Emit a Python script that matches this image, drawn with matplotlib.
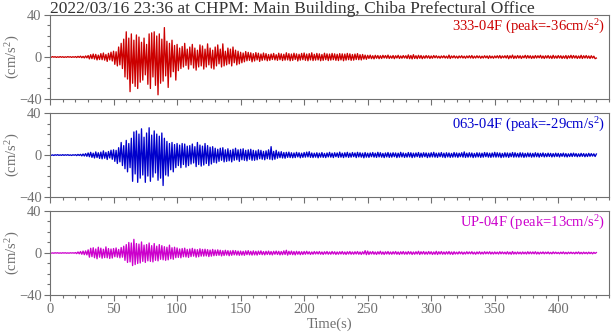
import numpy as np
import matplotlib
matplotlib.use("Agg")
import matplotlib.pyplot as plt
from matplotlib.ticker import MultipleLocator

plt.rcParams["font.family"] = "Liberation Serif"
plt.rcParams["mathtext.fontset"] = "custom"
plt.rcParams["mathtext.rm"] = "Liberation Serif"
plt.rcParams["mathtext.it"] = "Liberation Serif:italic"

title = "2022/03/16 23:36 at CHPM: Main Building, Chiba Prefectural Office"
components = ["333-04F", "063-04F", "UP-04F"]
colors = ["#cc0000", "#0000cc", "#cc00cc"]
dt = 1.0  # s between samples

# acceleration (cm/s2), one sample per second
acc_333 = [
    0.3, -0.3, 0.4, -0.2, 0.3, -0.4, 0.2, -0.3, 0.4, -0.3,
    0.3, -0.4, 0.2, -0.3, 0.4, -0.2, 0.3, -0.4, 0.3, -0.3,
    0.4, -0.5, 0.6, -0.4, 0.8, -0.7, 0.6, -0.9, 1.0, -0.8,
    1.4, -1.8, 2.2, -1.6, 2.8, -2.0, 2.5, -2.8, 1.8, -2.4,
    3.2, -2.6, 3.8, -3.0, 2.4, -4.2, 3.5, -2.8, 4.6, -3.8,
    5.5, -7.0, 5.0, -8.5, 9.5, -7.5, 13.0, -11.0, 17.0, -19.0,
    24.0, -21.0, 18.0, -33.0, 22.0, -25.0, 16.0, -28.0, 21.0, -30.0,
    19.0, -24.0, 14.0, -22.0, 18.0, -17.0, 12.0, -26.0, 22.0, -30.0,
    23.0, -19.0, 24.0, -27.0, 20.0, -36.0, 22.0, -25.0, 17.0, -23.0,
    28.0, -18.0, 15.0, -29.0, 13.0, -19.0, 16.0, -14.0, 11.0, -22.0,
    12.0, -13.0, 8.5, -11.0, 10.0, -9.5, 13.0, -8.0, 7.5, -11.5,
    9.5, -7.5, 12.0, -10.5, 8.5, -12.5, 6.5, -9.5, 11.5, -8.5,
    10.5, -11.5, 7.5, -9.5, 12.5, -7.5, 8.5, -10.5, 6.5, -11.5,
    9.5, -8.5, 11.5, -6.5, 7.5, -9.5, 12.5, -8.5, 5.5, -7.5,
    8.5, -6.5, 7.5, -8.5, 9.5, -5.5, 6.5, -7.5, 5.5, -6.5,
    4.5, -5.5, 3.8, -4.6, 5.2, -3.6, 4.4, -3.2, 4.0, -4.6,
    3.2, -3.8, 4.2, -2.8, 3.6, -4.2, 2.8, -3.2, 3.8, -2.8,
    3.2, -3.6, 2.4, -3.2, 2.8, -2.4, 3.4, -2.8, 2.2, -3.2,
    3.6, -2.6, 3.0, -3.4, 2.6, -3.0, 4.0, -2.8, 3.2, -3.6,
    2.8, -3.2, 3.6, -2.4, 3.0, -3.8, 2.6, -3.0, 3.4, -2.6,
    3.8, -3.2, 2.8, -3.6, 3.2, -2.8, 4.0, -3.4, 2.6, -3.0,
    3.4, -2.8, 3.0, -3.6, 2.4, -3.2, 3.6, -2.6, 3.0, -3.4,
    2.8, -3.0, 3.4, -2.6, 3.0, -3.2, 2.6, -3.4, 3.2, -2.8,
    3.0, -3.6, 2.8, -3.0, 3.4, -2.6, 3.0, -3.2, 2.4, -3.0,
    2.8, -2.4, 3.2, -2.6, 2.2, -2.8, 2.4, -2.0, 1.8, -2.2,
    1.6, -1.4, 1.8, -1.6, 1.2, -1.8, 1.6, -1.2, 1.4, -1.6,
    1.2, -1.4, 1.6, -1.0, 1.4, -1.2, 1.8, -1.4, 1.0, -1.2,
    1.4, -1.6, 1.2, -1.0, 1.6, -1.4, 1.0, -1.2, 1.4, -1.0,
    1.2, -1.4, 2.0, -1.6, 1.4, -1.8, 2.2, -1.4, 1.2, -1.6,
    1.6, -1.2, 1.4, -1.6, 1.0, -1.2, 1.4, -1.0, 1.2, -1.4,
    1.0, -1.2, 1.4, -0.8, 1.2, -1.0, 0.8, -1.2, 1.0, -0.8,
    1.2, -1.0, 0.8, -1.2, 1.8, -1.4, 1.0, -0.8, 1.2, -1.0,
    0.8, -1.2, 1.0, -0.8, 1.2, -1.0, 0.8, -1.2, 1.0, -0.8,
    1.2, -1.0, 1.4, -1.2, 0.8, -1.0, 1.2, -0.8, 1.0, -1.2,
    0.8, -1.0, 1.2, -0.8, 1.0, -1.4, 1.2, -1.0, 0.8, -1.2,
    1.0, -0.8, 1.2, -1.0, 1.4, -1.2, 1.0, -0.8, 1.2, -1.0,
    1.4, -1.6, 1.2, -1.0, 1.8, -1.4, 1.0, -1.2, 1.4, -1.0,
    1.2, -1.4, 1.0, -0.8, 1.6, -1.2, 1.4, -1.0, 1.2, -1.4,
    1.0, -1.2, 1.4, -1.0, 1.2, -0.8, 1.6, -1.2, 1.0, -1.4,
    1.2, -1.0, 1.4, -1.2, 1.0, -1.4, 1.6, -1.2, 1.0, -1.2,
    1.4, -1.0, 1.2, -1.4, 1.0, -1.2, 1.4, -1.6, 1.2, -1.0,
    1.6, -1.2, 1.4, -1.0, 1.2, -1.4, 1.0, -1.2, 1.6, -1.4,
    1.2, -1.0, 1.4, -1.2, 1.0, -1.4, 1.2, -1.0, 0.8, -1.6,
    -1.0,
]

acc_063 = [
    0.3, -0.3, 0.2, -0.4, 0.3, -0.2, 0.4, -0.3, 0.2, -0.3,
    0.4, -0.3, 0.3, -0.2, 0.4, -0.3, 0.2, -0.4, 0.3, -0.2,
    0.4, -0.5, 0.6, -0.4, 0.7, -0.8, 1.0, -0.9, 1.4, -1.2,
    2.0, -1.6, 2.6, -2.2, 1.8, -2.8, 3.0, -2.4, 2.2, -3.2,
    2.8, -3.6, 4.0, -3.0, 2.6, -4.2, 3.4, -2.8, 4.6, -4.0,
    5.0, -6.0, 4.5, -8.0, 7.0, -6.5, 12.0, -10.0, 9.0, -13.0,
    14.0, -16.0, 11.0, -12.0, 16.0, -25.0, 22.0, -18.0, 23.0, -26.0,
    20.0, -22.0, 25.0, -19.0, 17.0, -26.0, 21.0, -20.0, 26.0, -25.0,
    19.0, -21.0, 23.0, -17.0, 20.0, -24.0, 18.0, -22.0, 21.0, -29.0,
    16.0, -19.0, 13.0, -20.0, 11.0, -14.0, 12.0, -16.0, 10.0, -12.0,
    11.0, -10.0, 9.5, -12.0, 11.0, -9.0, 10.5, -11.5, 8.5, -10.0,
    9.0, -8.5, 10.5, -7.5, 8.0, -11.0, 12.0, -9.0, 9.5, -10.5,
    8.5, -9.5, 11.0, -8.0, 9.0, -10.0, 7.5, -8.5, 8.0, -7.0,
    6.5, -7.5, 5.5, -6.0, 6.5, -5.0, 7.0, -6.5, 5.0, -6.0,
    6.0, -5.5, 4.5, -6.5, 5.5, -5.0, 6.5, -4.5, 5.0, -6.0,
    5.5, -4.5, 6.0, -5.0, 4.5, -5.5, 5.0, -4.0, 5.5, -5.0,
    4.5, -5.0, 4.0, -4.5, 5.0, -3.5, 4.5, -4.0, 3.5, -4.5,
    4.0, -3.5, 5.0, -4.0, 8.0, -4.5, 3.5, -4.0, 4.5, -3.0,
    3.0, -2.5, 3.2, -2.8, 2.4, -3.0, 2.6, -2.2, 2.8, -2.4,
    2.2, -2.6, 2.0, -2.4, 2.6, -1.8, 2.2, -2.6, 1.8, -2.2,
    2.4, -2.0, 2.8, -1.8, 3.2, -2.2, 2.0, -2.4, 1.8, -2.0,
    2.2, -2.6, 1.8, -2.0, 2.4, -2.2, 1.6, -2.4, 2.0, -1.8,
    2.6, -2.0, 1.8, -2.4, 2.2, -1.6, 2.0, -2.2, 2.8, -2.0,
    1.8, -2.4, 2.2, -1.8, 2.6, -2.2, 1.8, -2.0, 2.4, -1.6,
    2.0, -2.4, 2.6, -1.8, 2.2, -2.0, 1.8, -2.6, 2.4, -2.0,
    1.8, -2.2, 2.0, -1.6, 2.4, -2.0, 1.8, -2.2, 2.6, -1.8,
    2.2, -2.0, 1.6, -2.4, 2.0, -1.8, 2.4, -2.2, 1.8, -2.0,
    2.2, -1.6, 2.0, -2.4, 1.8, -2.0, 2.6, -1.8, 2.0, -2.2,
    1.6, -2.0, 2.4, -1.8, 2.2, -2.4, 1.8, -2.0, 2.0, -1.6,
    2.4, -2.2, 1.8, -2.0, 2.2, -1.6, 2.0, -2.4, 1.8, -2.0,
    2.2, -1.8, 2.6, -2.0, 1.8, -2.2, 2.0, -1.6, 2.4, -2.0,
    1.8, -2.4, 2.2, -1.8, 2.0, -2.2, 1.6, -2.0, 2.4, -1.8,
    2.0, -2.2, 1.8, -1.6, 2.2, -2.0, 3.0, -2.2, 1.8, -2.0,
    2.2, -1.8, 2.0, -2.4, 1.6, -2.0, 2.2, -1.8, 2.0, -2.2,
    1.8, -2.0, 2.4, -1.6, 2.2, -2.0, 1.8, -2.2, 2.0, -1.8,
    2.6, -2.0, 2.2, -1.8, 2.0, -2.4, 1.6, -2.0, 2.2, -1.8,
    2.0, -2.2, 1.8, -1.6, 2.4, -2.0, 2.2, -1.8, 1.6, -2.0,
    2.2, -1.8, 2.0, -2.2, 1.6, -1.8, 2.0, -1.6, 1.8, -2.0,
    1.6, -1.8, 2.2, -1.6, 1.8, -2.0, 1.6, -1.4, 2.0, -1.8,
    1.4, -1.6, 1.8, -1.4, 1.6, -1.8, 1.4, -1.6, 1.8, -1.4,
    1.6, -1.8, 1.4, -1.2, 1.8, -1.6, 1.4, -1.8, 1.2, -1.4,
    1.6, -1.4, 1.8, -1.2, 1.4, -1.6, 1.2, -1.4, 1.6, -1.2,
    1.4, -1.6, 1.2, -1.4, 1.6, -1.2, 1.4, -1.0, 1.2, -1.4,
    1.0,
]

acc_up = [
    0.2, -0.2, 0.1, -0.2, 0.2, -0.1, 0.2, -0.2, 0.1, -0.2,
    0.2, -0.1, 0.2, -0.2, 0.1, -0.2, 0.2, -0.1, 0.2, -0.2,
    0.4, -0.6, 1.0, -0.8, 1.4, -1.2, 1.8, -1.6, 2.0, -1.8,
    3.0, -4.0, 4.5, -3.5, 5.0, -4.5, 3.8, -5.5, 5.5, -4.0,
    4.6, -5.0, 3.6, -4.4, 5.8, -4.6, 4.2, -5.2, 3.8, -4.8,
    4.2, -3.6, 4.8, -4.0, 3.4, -4.6, 5.2, -4.0, 6.5, -7.0,
    8.0, -9.0, 10.0, -8.5, 9.5, -12.0, 13.0, -11.0, 9.0, -10.0,
    8.5, -9.5, 10.5, -8.0, 7.5, -9.0, 8.0, -7.5, 9.5, -8.0,
    7.0, -8.5, 9.0, -7.0, 6.5, -7.5, 8.0, -6.0, 7.0, -6.5,
    6.0, -7.0, 5.5, -6.5, 7.5, -5.5, 5.0, -6.0, 5.5, -4.5,
    4.8, -4.2, 3.8, -4.6, 4.2, -3.6, 4.6, -3.8, 3.4, -4.2,
    3.8, -3.4, 4.4, -3.0, 3.6, -4.0, 3.2, -3.6, 4.0, -3.0,
    3.4, -3.0, 3.6, -2.8, 3.2, -3.4, 2.8, -3.0, 3.4, -2.6,
    2.8, -2.4, 3.0, -2.2, 2.6, -2.8, 2.2, -2.4, 2.6, -2.0,
    2.2, -2.6, 2.0, -2.2, 2.4, -1.8, 2.2, -2.0, 1.8, -2.2,
    1.8, -2.0, 1.6, -2.2, 2.0, -1.6, 2.2, -1.8, 1.6, -2.0,
    2.0, -1.8, 1.6, -2.0, 1.8, -1.4, 2.0, -1.6, 1.4, -1.8,
    1.6, -1.4, 1.8, -1.6, 1.4, -1.8, 1.6, -1.2, 1.8, -1.4,
    1.6, -1.8, 1.4, -1.6, 2.0, -1.4, 2.6, -2.0, 1.6, -1.4,
    1.8, -1.6, 1.4, -1.8, 1.6, -1.2, 1.4, -1.6, 1.2, -1.4,
    1.4, -1.2, 1.6, -1.0, 1.2, -1.4, 1.0, -1.2, 1.4, -1.0,
    1.2, -1.0, 1.4, -1.2, 1.0, -1.4, 1.2, -1.0, 1.4, -1.2,
    1.0, -1.2, 1.4, -1.0, 1.2, -1.4, 1.0, -1.2, 1.2, -1.0,
    1.4, -1.2, 1.0, -1.4, 1.2, -1.0, 1.4, -1.2, 1.0, -1.2,
    1.2, -1.0, 1.4, -1.2, 1.0, -1.4, 1.2, -1.0, 2.2, -1.6,
    1.8, -1.4, 1.2, -1.0, 1.4, -1.2, 1.0, -1.4, 1.2, -1.0,
    1.6, -1.2, 1.0, -1.4, 1.2, -1.0, 1.4, -1.2, 1.0, -1.2,
    1.2, -1.0, 1.4, -1.2, 1.0, -1.4, 1.2, -1.0, 1.4, -1.2,
    1.0, -1.2, 1.4, -1.0, 1.2, -1.4, 1.0, -1.2, 1.2, -1.0,
    1.6, -1.4, 1.2, -1.0, 1.4, -1.2, 1.0, -1.2, 1.4, -1.0,
    1.2, -1.4, 1.0, -1.2, 1.6, -1.4, 1.2, -1.0, 1.4, -1.2,
    1.0, -1.2, 1.2, -1.0, 1.4, -1.2, 1.0, -1.4, 1.2, -1.0,
    0.8, -1.0, 1.2, -0.8, 1.0, -1.2, 0.8, -1.0, 1.2, -0.8,
    1.0, -0.8, 1.2, -1.0, 0.8, -1.2, 1.0, -0.8, 1.2, -1.0,
    0.8, -1.0, 1.2, -0.8, 1.0, -0.8, 1.2, -1.0, 0.8, -1.0,
    1.0, -0.8, 0.8, -1.0, 1.2, -0.8, 1.0, -0.8, 0.8, -1.0,
    1.2, -1.0, 0.8, -1.2, 1.4, -1.0, 0.8, -1.0, 1.0, -0.8,
    0.8, -1.0, 1.0, -0.8, 0.8, -1.0, 1.2, -0.8, 1.0, -0.8,
    1.0, -0.8, 1.2, -1.0, 0.8, -1.0, 0.8, -0.6, 1.0, -0.8,
    0.8, -0.6, 1.0, -0.8, 0.6, -0.8, 1.0, -0.6, 0.8, -0.6,
    0.6, -0.8, 0.8, -0.6, 1.0, -0.8, 0.6, -0.8, 0.8, -0.6,
    0.8, -0.6, 0.6, -0.8, 0.8, -0.6, 1.0, -0.8, 0.6, -0.8,
    0.8, -0.6, 0.6, -0.8, 0.8, -0.6, 0.6, -0.8, 0.6, -0.4,
    0.4,
]

traces = [acc_333, acc_063, acc_up]

gray = "#707070"
fig = plt.figure(figsize=(6.13, 3.34), dpi=100)

left = 0.0816
width = 0.912
height = 0.2515
bottoms = [0.7036, 0.410, 0.1168]

for i, (acc, comp, c) in enumerate(zip(traces, components, colors)):
    ax = fig.add_axes([left, bottoms[i], width, height])
    acc = np.array(acc)
    t = np.arange(len(acc)) * dt
    ax.plot(t, acc, color=c, lw=0.95)

    peak = acc[np.argmax(np.abs(acc))]
    ax.text(0.993, 0.97, f"{comp} (peak={peak:.0f}cm/s$^2$)",
            transform=ax.transAxes, ha="right", va="top",
            color=c, fontsize=10.5)

    ax.set_xlim(0, 440)
    ax.set_ylim(-40, 40)
    ax.xaxis.set_major_locator(MultipleLocator(50))
    ax.xaxis.set_minor_locator(MultipleLocator(10))
    ax.yaxis.set_major_locator(MultipleLocator(40))
    ax.yaxis.set_minor_locator(MultipleLocator(10))
    ax.tick_params(which="major", length=4, width=0.8, color=gray,
                   labelcolor=gray, labelsize=10.5, direction="out", pad=2)
    ax.tick_params(which="minor", length=2.5, width=0.8, color=gray,
                   direction="out")
    for s in ax.spines.values():
        s.set_color(gray)
        s.set_linewidth(0.8)
    ax.set_ylabel("(cm/s$^2$)", color=gray, fontsize=10.5)
    ax.yaxis.set_label_coords(-0.05, 0.5)
    if i < 2:
        ax.tick_params(labelbottom=False)
    else:
        ax.set_xlabel("Time(s)", color=gray, fontsize=10.5, labelpad=1)

fig.text(left, 0.998, title, ha="left", va="top", fontsize=12.5,
         color="#333333")

fig.savefig("out.png", dpi=100)
